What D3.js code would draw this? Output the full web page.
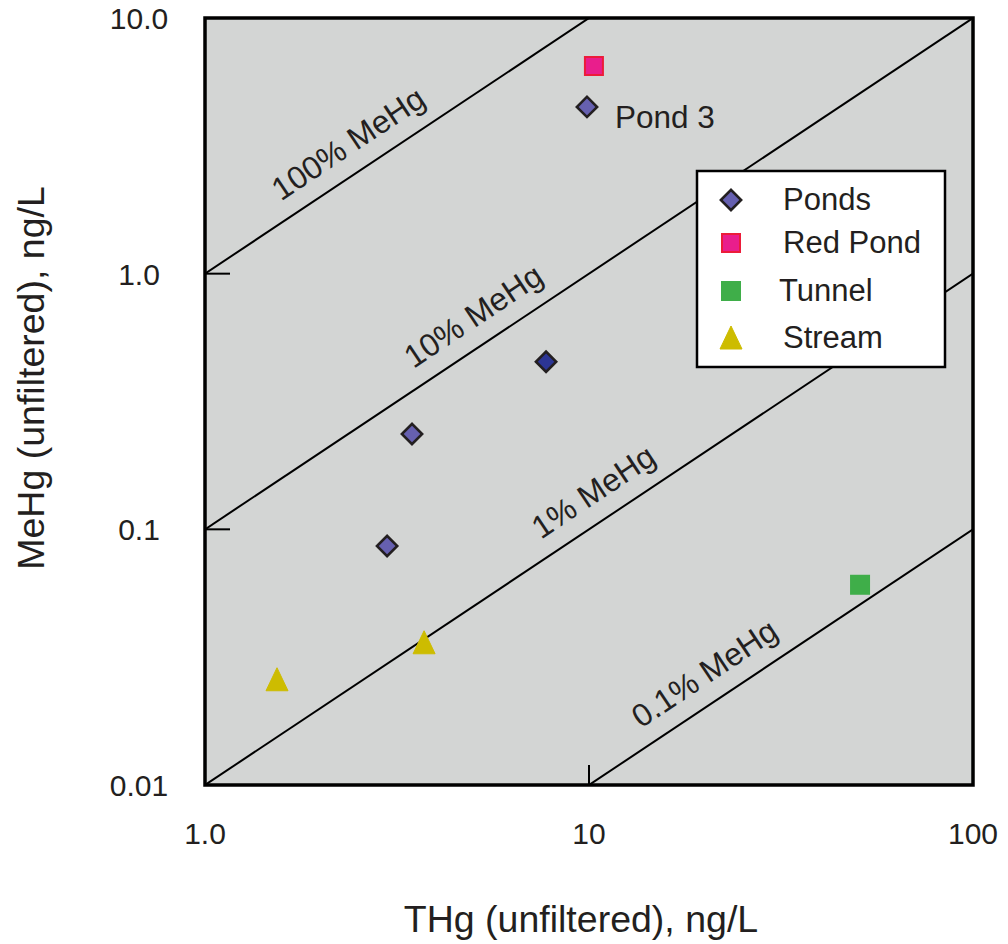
<!DOCTYPE html>
<html><head><meta charset="utf-8">
<script src="https://cdn.jsdelivr.net/npm/d3@7"></script>
<style>body{margin:0;background:#fff;} svg{display:block;} text{font-family:"Liberation Sans",Arial,Helvetica,sans-serif;fill:#231f20;}</style>
</head><body><svg id="c" width="1008" height="944"></svg>
<script>
// ---- data ----
const pondsX = [9.88, 7.73, 3.46, 2.98];
const pondsY = [4.49, 0.452, 0.236, 0.086];
const pondsDark = [false, true, false, false];
const redPondX = [10.3];
const redPondY = [6.49];
const tunnelX = [50.8];
const tunnelY = [0.0607];
const streamX = [1.54, 3.72];
const streamY = [0.0258, 0.036];
const xTickVals = [1, 10, 100];
const xTickLabels = ["1.0", "10", "100"];
const yTickVals = [10, 1, 0.1, 0.01];
const yTickLabels = ["10.0", "1.0", "0.1", "0.01"];
const ratioVals = [1, 0.1, 0.01, 0.001];
const ratioLabels = ["100% MeHg", "10% MeHg", "1% MeHg", "0.1% MeHg"];
const ratioLabelX = [2.6, 5.5, 11.3, 22.0];
const legendNames = ["Ponds", "Red Pond", "Tunnel", "Stream"];

// ---- layout ----
const L = 205, R = 973, T = 18, B = 785;
const svg = d3.select("#c");
const x = d3.scaleLog().domain([1, 100]).range([L, R]);
const y = d3.scaleLog().domain([0.01, 10]).range([B, T]);

svg.append("rect").attr("x", L).attr("y", T).attr("width", R - L).attr("height", B - T)
  .attr("fill", "#d3d5d4");

svg.append("clipPath").attr("id", "pc").append("rect")
  .attr("x", L).attr("y", T).attr("width", R - L).attr("height", B - T);

// ratio lines
const lg = svg.append("g").attr("clip-path", "url(#pc)");
ratioVals.forEach(r => {
  lg.append("line")
    .attr("x1", x(1)).attr("y1", y(r * 1))
    .attr("x2", x(100)).attr("y2", y(r * 100))
    .attr("stroke", "#000").attr("stroke-width", 2);
});
const ang = -Math.atan2(y(1) - y(10), x(10) - x(1)) * 180 / Math.PI;
ratioVals.forEach((r, i) => {
  const px = x(ratioLabelX[i]), py = y(r * ratioLabelX[i]);
  svg.append("text").attr("transform", `translate(${px},${py}) rotate(${ang})`)
    .attr("text-anchor", "middle").attr("dy", -18)
    .attr("font-size", 32).text(ratioLabels[i]);
});

// inner ticks
svg.selectAll(".yt").data([1, 0.1]).enter().append("line")
  .attr("x1", L).attr("x2", L + 25).attr("y1", d => y(d)).attr("y2", d => y(d))
  .attr("stroke", "#000").attr("stroke-width", 2);
svg.selectAll(".xt").data([10]).enter().append("line")
  .attr("x1", d => x(d)).attr("x2", d => x(d)).attr("y1", B).attr("y2", B - 20)
  .attr("stroke", "#000").attr("stroke-width", 2);

// frame
svg.append("rect").attr("x", L).attr("y", T).attr("width", R - L).attr("height", B - T)
  .attr("fill", "none").attr("stroke", "#000").attr("stroke-width", 3.5);

// tick labels
xTickVals.forEach((v, i) => {
  svg.append("text").attr("x", x(v)).attr("y", 844).attr("text-anchor", "middle")
    .attr("font-size", 30).text(xTickLabels[i]);
});
yTickVals.forEach((v, i) => {
  svg.append("text").attr("x", 139).attr("y", y(v) + 11).attr("text-anchor", "middle")
    .attr("font-size", 30).text(yTickLabels[i]);
});

// axis titles
svg.append("text").attr("x", 581).attr("y", 932).attr("text-anchor", "middle")
  .attr("font-size", 37.5).text("THg (unfiltered), ng/L");
svg.append("text").attr("transform", "translate(44,378) rotate(-90)").attr("text-anchor", "middle")
  .attr("font-size", 37.5).text("MeHg (unfiltered), ng/L");

// markers
function diamond(g, dark) {
  g.append("path").attr("d", d3.symbol().type(d3.symbolSquare).size(205)())
    .attr("transform", "rotate(45)")
    .attr("fill", dark ? "#2c3594" : "#6660b0").attr("stroke", "#231f20").attr("stroke-width", 2.6);
}
function redSq(g) {
  g.append("rect").attr("x", -9).attr("y", -9).attr("width", 18).attr("height", 18)
    .attr("fill", "#e91e8c").attr("stroke", "#ec1c3a").attr("stroke-width", 2);
}
function greenSq(g) {
  g.append("rect").attr("x", -10).attr("y", -10).attr("width", 20).attr("height", 20)
    .attr("fill", "#3fae49");
}
function tri(g) {
  g.append("path").attr("d", "M0,-12 L11,11 L-11,11 Z").attr("fill", "#cdbc00")
    .attr("stroke", "#cdbc00").attr("stroke-width", 1).attr("stroke-linejoin", "round");
}
pondsX.forEach((v, i) => diamond(svg.append("g").attr("transform", `translate(${x(v)},${y(pondsY[i])})`), pondsDark[i]));
redPondX.forEach((v, i) => redSq(svg.append("g").attr("transform", `translate(${x(v)},${y(redPondY[i])})`)));
tunnelX.forEach((v, i) => greenSq(svg.append("g").attr("transform", `translate(${x(v)},${y(tunnelY[i])})`)));
streamX.forEach((v, i) => tri(svg.append("g").attr("transform", `translate(${x(v)},${y(streamY[i])})`)));

svg.append("text").attr("x", 615).attr("y", 128).attr("font-size", 31.5).text("Pond 3");

// legend
const lgd = svg.append("g");
lgd.append("rect").attr("x", 697).attr("y", 171).attr("width", 248).attr("height", 196)
  .attr("fill", "#fff").attr("stroke", "#000").attr("stroke-width", 2.5);
const draws = [g => diamond(g, false), redSq, greenSq, tri];
const ly = [200, 243, 291, 338];
const lx = [783, 783, 779, 783];
legendNames.forEach((n, i) => {
  draws[i](lgd.append("g").attr("transform", `translate(731,${ly[i]})`));
  lgd.append("text").attr("x", lx[i]).attr("y", ly[i] + 10).attr("font-size", 31).text(n);
});
</script></body></html>
